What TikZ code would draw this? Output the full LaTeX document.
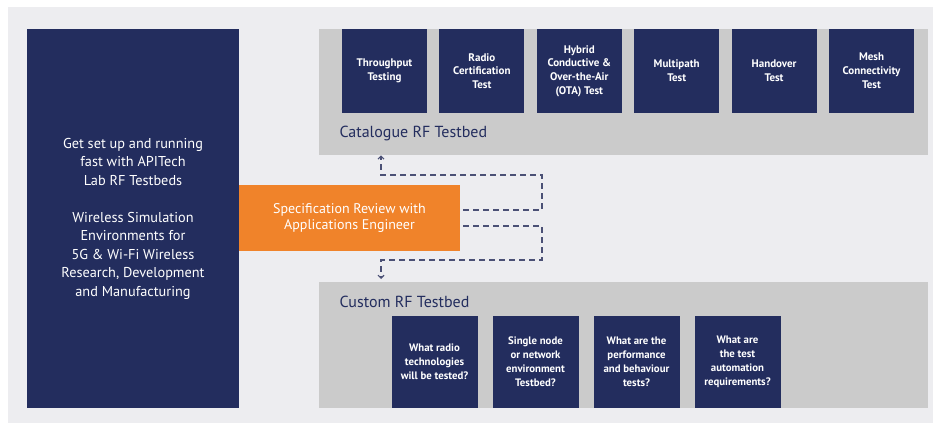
\documentclass[tikz,border=0pt]{standalone}
\usepackage{fontspec}
\setmainfont{PT Sans}
\usetikzlibrary{arrows.meta}

\definecolor{navy}{HTML}{232D5E}
\definecolor{specorange}{HTML}{F0832A}
\definecolor{pagebg}{HTML}{EDEDF0}
\definecolor{bedgray}{HTML}{CBCBCB}
\definecolor{linkgray}{HTML}{4B5075}

\tikzset{
  darkbox/.style={fill=navy, text=white, align=center, inner sep=0pt},
  testbox/.style={darkbox, minimum width=85pt, minimum height=84pt,
    font=\fontsize{11}{13.8}\selectfont\bfseries},
  askbox/.style={darkbox, minimum width=86pt, minimum height=92pt,
    font=\fontsize{10.8}{14}\selectfont\bfseries},
  bedbox/.style={fill=bedgray, inner sep=0pt, anchor=north west},
  bedlabel/.style={anchor=west, text=navy, font=\fontsize{16}{18}\selectfont},
  link/.style={draw=linkgray, line width=1.1pt, dash pattern=on 6pt off 4pt,
    -{Straight Barb[length=3pt,width=6pt]}}
}

\begin{document}
\begin{tikzpicture}[x=1pt,y=-1pt]
    % Page and background
    \useasboundingbox (0,0) rectangle (933,423);
    \fill[pagebg] (8,7) rectangle (933,423);

    % Left panel
    \node[darkbox, minimum width=212pt, minimum height=379pt,
      font=\fontsize{14.3}{18.5}\selectfont] (intro) at (133,218.5)
      {Get set up and running\\fast with APITech\\Lab RF Testbeds\\[18.5pt]
       Wireless Simulation\\Environments for\\5G \& Wi-Fi Wireless\\
       Research, Development\\and Manufacturing};

    % Catalogue testbed and its tests
    \node[bedbox, minimum width=609pt, minimum height=126pt] (catalogue) at (319,29) {};
    \node[bedlabel] (catlabel) at (336,133) {Catalogue RF Testbed};
    \foreach \lbl [count=\i from 0] in {{Throughput\\Testing}, {Radio\\Certification\\Test},
        {Hybrid\\Conductive \&\\Over-the-Air\\(OTA) Test}, {Multipath\\Test},
        {Handover\\Test}, {Mesh\\Connectivity\\Test}}
      \node[testbox] (test\i) at (384.5+97.4*\i,71) {\lbl};

    % Custom testbed and its questions
    \node[bedbox, minimum width=609pt, minimum height=126pt] (custom) at (319,282) {};
    \node[bedlabel] (cuslabel) at (336,302) {Custom RF Testbed};
    \foreach \lbl [count=\i from 0] in {{What radio\\technologies\\will be tested?},
        {Single node\\or network\\environment\\Testbed?},
        {What are the\\performance\\and behaviour\\tests?},
        {What are\\the test\\automation\\requirements?}}
      \node[askbox] (ask\i) at (434.5+101*\i,362) {\lbl};

    % Specification review
    \node[fill=specorange, text=white, align=center, minimum width=221pt,
      minimum height=66pt, inner sep=0pt, font=\fontsize{14}{16}\selectfont]
      (spec) at (349.5,217.5) {Specification Review with\\Applications Engineer};

    % Dashed links to both testbeds
    \coordinate (upbend) at (542,175);
    \coordinate (downbend) at (542,260);
    \draw[link] ([xshift=3pt,yshift=7.5pt]spec.east) -| (upbend) -| (381,0 |- catalogue.south);
    \draw[link] ([xshift=3pt,yshift=-8.5pt]spec.east) -| (downbend) -| ([yshift=3pt]381,0 |- custom.north);
\end{tikzpicture}
\end{document}
